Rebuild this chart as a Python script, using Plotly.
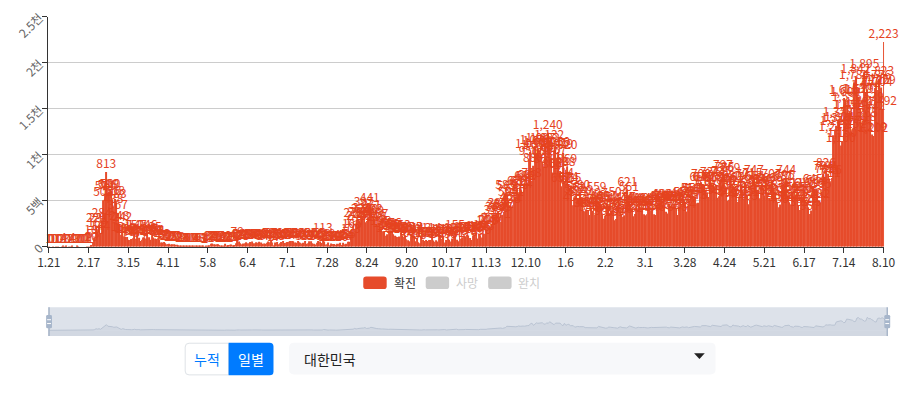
import pandas as pd
import plotly.graph_objects as go

# ---------------- data (daily confirmed cases, Korea) ----------------
start_date = "2020-01-21"
jan_2020 = [1, 0, 0, 1, 0, 1, 1, 0, 0, 2, 4]
feb_2020 = [1, 3, 0, 1, 2, 4, 0, 0, 3, 2, 0, 0, 0, 0, 0, 1, 1, 1, 20, 53,
            100, 229, 169, 231, 144, 284, 505, 571, 813]
mar_2020 = [586, 599, 600, 516, 438, 518, 483, 367, 248, 131, 242, 114, 110, 107, 76, 74,
            84, 93, 152, 87, 147, 98, 64, 76, 100, 104, 91, 146, 105, 78, 125]
apr_2020 = [101, 89, 86, 94, 81, 47, 47, 53, 39, 27, 30, 32, 25, 27, 27, 22, 22, 18, 8, 13,
            9, 11, 8, 6, 10, 10, 10, 14, 9, 4]
may_2020 = [9, 6, 13, 8, 3, 2, 4, 12, 18, 34, 35, 27, 26, 29, 27, 19, 13, 15, 13, 32,
            12, 20, 23, 25, 16, 19, 40, 79, 58, 39, 27]
jun_2020 = [35, 38, 49, 39, 39, 51, 57, 38, 38, 50, 45, 56, 48, 34, 37, 34, 43, 59, 49, 67,
            48, 17, 46, 51, 28, 39, 51, 62, 42, 43]
jul_2020 = [51, 54, 63, 63, 61, 48, 44, 63, 50, 45, 35, 44, 62, 33, 39, 61, 60, 39, 34, 26,
            45, 63, 59, 41, 113, 58, 25, 28, 48, 18, 36]
aug_2020 = [31, 30, 23, 34, 33, 43, 20, 43, 28, 34, 54, 56, 103, 166, 279, 197, 246, 297, 288, 324,
            332, 397, 266, 280, 320, 441, 371, 323, 299, 248, 235]
sep_2020 = [267, 195, 198, 168, 167, 119, 136, 156, 155, 176, 136, 121, 109, 106, 113, 153, 126, 110, 125, 82,
            70, 61, 110, 125, 114, 61, 95, 50, 38, 113]
oct_2020 = [77, 63, 75, 64, 73, 75, 114, 69, 54, 72, 58, 98, 102, 84, 110, 47, 73, 91, 76, 58,
            89, 121, 155, 77, 61, 119, 88, 103, 125, 114, 127]
nov_2020 = [124, 97, 75, 118, 125, 145, 89, 143, 126, 100, 146, 143, 191, 205, 208, 223, 230, 313, 343, 363,
            386, 330, 271, 349, 382, 583, 569, 504, 450, 438]
dec_2020 = [451, 511, 540, 629, 583, 631, 615, 594, 686, 682, 689, 950, 1030, 718, 880, 1078, 1014, 1064, 1045, 1097,
            926, 867, 1092, 985, 1240, 1132, 970, 808, 1045, 1050, 967]
jan_2021 = [1029, 824, 657, 1020, 714, 838, 869, 674, 641, 665, 451, 537, 562, 524, 513, 580, 520, 389, 386, 404,
            400, 346, 431, 392, 437, 349, 559, 497, 469, 458, 355]
feb_2021 = [305, 336, 467, 451, 370, 393, 372, 289, 303, 444, 504, 403, 362, 326, 343, 457, 621, 561, 448, 416,
            332, 356, 440, 396, 440, 406, 415, 355]
mar_2021 = [344, 355, 444, 424, 398, 416, 355, 346, 446, 470, 465, 488, 490, 459, 382, 363, 469, 445, 463, 452,
            456, 415, 346, 430, 494, 430, 505, 482, 384, 447, 506]
apr_2021 = [551, 557, 543, 543, 473, 478, 668, 700, 671, 677, 614, 587, 542, 731, 698, 673, 658, 672, 532, 549,
            731, 735, 797, 785, 644, 499, 512, 769, 680, 661]
may_2021 = [627, 606, 488, 541, 676, 574, 525, 701, 564, 463, 511, 635, 715, 747, 681, 610, 619, 528, 654, 646,
            561, 666, 585, 530, 516, 707, 629, 587, 533, 480, 430]
jun_2021 = [459, 677, 681, 695, 744, 556, 485, 454, 602, 611, 565, 565, 452, 399, 545, 540, 611, 507, 482, 429,
            357, 395, 645, 610, 634, 614, 501, 482, 595, 794]
jul_2021 = [762, 826, 794, 743, 711, 746, 1212, 1275, 1316, 1378, 1324, 1100, 1150, 1615, 1600, 1536, 1452, 1454, 1252, 1278,
            1784, 1842, 1630, 1629, 1487, 1318, 1365, 1895, 1674, 1710, 1539]
aug_2021 = [1442, 1219, 1202, 1725, 1776, 1704, 1823, 1729, 1492, 2223]

daily_cases = (jan_2020 + feb_2020 + mar_2020 + apr_2020 + may_2020 + jun_2020 + jul_2020 +
               aug_2020 + sep_2020 + oct_2020 + nov_2020 + dec_2020 + jan_2021 + feb_2021 +
               mar_2021 + apr_2021 + may_2021 + jun_2021 + jul_2021 + aug_2021)

dates = pd.date_range(start_date, periods=len(daily_cases), freq="D")
tick_step = 27
tick_dates = list(dates[::tick_step])
tick_labels = [f"{d.month}.{d.day}" for d in tick_dates]
y_tick_values = [0, 500, 1000, 1500, 2000, 2500]
y_tick_labels = ["0", "5백", "1천", "1.5천", "2천", "2.5천"]
legend_names = ["확진", "사망", "완치"]
view_buttons = ["누적", "일별"]
region_name = "대한민국"

# ---------------- style ----------------
W, H = 909, 393
RED = "#e64b2b"
LABEL_RED = "#e5431f"
FONT = "Noto Sans CJK KR, sans-serif"
Y_MAX = 2500
PLOT_TOP, PLOT_BOTTOM = 10, 250
LABEL_LIFT_PX = 1  # extra gap between bar top and its value label


def X(px):
    return px / W


def Y(py):
    return 1 - py / H


def rrect(x0, y0, x1, y1, r, tl=True, tr=True, br=True, bl=True):
    """Rounded rectangle path in paper coordinates from pixel coords."""
    def p(x, y):
        return f"{X(x):.6f},{Y(y):.6f}"
    rtl, rtr, rbr, rbl = (r if tl else 0), (r if tr else 0), (r if br else 0), (r if bl else 0)
    d = f"M {p(x0 + rtl, y0)} L {p(x1 - rtr, y0)} "
    d += f"Q {p(x1, y0)} {p(x1, y0 + rtr)} " if rtr else ""
    d += f"L {p(x1, y1 - rbr)} "
    d += f"Q {p(x1, y1)} {p(x1 - rbr, y1)} " if rbr else ""
    d += f"L {p(x0 + rbl, y1)} "
    d += f"Q {p(x0, y1)} {p(x0, y1 - rbl)} " if rbl else ""
    d += f"L {p(x0, y0 + rtl)} "
    d += f"Q {p(x0, y0)} {p(x0 + rtl, y0)} " if rtl else ""
    return d + "Z"


half_day = pd.Timedelta(hours=12)
x_range = [dates[0] - half_day, dates[-1] + half_day]

fig = go.Figure()

fig.add_trace(go.Bar(
    x=dates, y=daily_cases, name=legend_names[0],
    marker=dict(color=RED, line=dict(width=0)),
    showlegend=False, hoverinfo="x+y",
))

# value labels: invisible bars on an overlaid axis shifted a pixel up
lift = LABEL_LIFT_PX * Y_MAX / (PLOT_BOTTOM - PLOT_TOP)
fig.add_trace(go.Bar(
    x=dates, y=daily_cases, yaxis="y3",
    marker=dict(color="rgba(0,0,0,0)", line=dict(width=0)),
    texttemplate="%{y:,}", textposition="outside", textangle=0,
    constraintext="none", cliponaxis=False,
    textfont=dict(color=LABEL_RED, size=12, family=FONT),
    showlegend=False, hoverinfo="skip",
))

# mini overview chart for the range slider look
fig.add_trace(go.Scatter(
    x=dates, y=daily_cases, mode="lines", xaxis="x2", yaxis="y2",
    line=dict(color="#b9c3d2", width=1), fill="tozeroy", fillcolor="#d2d8e2",
    showlegend=False, hoverinfo="skip",
))

shapes = []
# slider background
shapes.append(dict(type="rect", xref="paper", yref="paper", x0=X(38), x1=X(898), y0=Y(343), y1=Y(313),
                   fillcolor="#dde2ea", line=dict(width=0), layer="below"))
shapes.append(dict(type="rect", xref="paper", yref="paper", x0=X(38), x1=X(898), y0=Y(343), y1=Y(337),
                   fillcolor="#d2d8e2", line=dict(width=0), layer="below"))
for xe in (39, 898):
    shapes.append(dict(type="line", xref="paper", yref="paper", x0=X(xe), x1=X(xe), y0=Y(343), y1=Y(313),
                       line=dict(color="#a9b6c9", width=1.5)))
    shapes.append(dict(type="path", xref="paper", yref="paper", path=rrect(xe - 3, 321, xe + 3, 335, 1.5),
                       fillcolor="#a7b6cb", line=dict(width=0)))
    for yl in (326, 330):
        shapes.append(dict(type="line", xref="paper", yref="paper", x0=X(xe - 2), x1=X(xe + 2),
                           y0=Y(yl), y1=Y(yl), line=dict(color="white", width=1)))

# legend
legend_x = [361, 425, 489]
legend_colors = [RED, "#cccccc", "#cccccc"]
legend_text_colors = ["#333333", "#cccccc", "#cccccc"]
annotations = []
for lx, lc, tc, name in zip(legend_x, legend_colors, legend_text_colors, legend_names):
    shapes.append(dict(type="path", xref="paper", yref="paper", path=rrect(lx, 281, lx + 24, 294, 3),
                       fillcolor=lc, line=dict(width=0)))
    annotations.append(dict(x=X(lx + 29), y=Y(287.5), xref="paper", yref="paper", text=name,
                            showarrow=False, xanchor="left", yanchor="middle",
                            font=dict(size=12, color=tc, family=FONT)))

# buttons
shapes.append(dict(type="path", xref="paper", yref="paper", path=rrect(178.5, 350.5, 223, 383.5, 4, tr=False, br=False),
                   fillcolor="white", line=dict(color="#dee2e6", width=1)))
shapes.append(dict(type="path", xref="paper", yref="paper", path=rrect(223, 350, 269, 384, 4, tl=False, bl=False),
                   fillcolor="#007bff", line=dict(width=0)))
annotations.append(dict(x=X(201), y=Y(367), xref="paper", yref="paper", text=view_buttons[0], showarrow=False,
                        xanchor="center", yanchor="middle", font=dict(size=14, color="#007bff", family=FONT)))
annotations.append(dict(x=X(246), y=Y(367), xref="paper", yref="paper", text=view_buttons[1], showarrow=False,
                        xanchor="center", yanchor="middle", font=dict(size=14, color="white", family=FONT)))

# dropdown
shapes.append(dict(type="path", xref="paper", yref="paper", path=rrect(285, 350, 722, 383, 5),
                   fillcolor="#f7f8fa", line=dict(width=0)))
caret = f"M {X(700):.6f},{Y(361):.6f} L {X(711):.6f},{Y(361):.6f} L {X(705.5):.6f},{Y(367):.6f} Z"
shapes.append(dict(type="path", xref="paper", yref="paper", path=caret, fillcolor="#222222", line=dict(width=0)))
annotations.append(dict(x=X(298), y=Y(366.5), xref="paper", yref="paper", text=region_name, showarrow=False,
                        xanchor="left", yanchor="middle", font=dict(size=14, color="#222222", family=FONT)))

fig.update_layout(
    width=W, height=H, margin=dict(l=0, r=0, t=0, b=0),
    paper_bgcolor="white", plot_bgcolor="rgba(0,0,0,0)",
    font=dict(family=FONT, size=12, color="#333333"),
    bargap=0.35, barmode="overlay", showlegend=False,
    xaxis=dict(domain=[X(38), X(895)], type="date", range=x_range, anchor="y",
               tickmode="array", tickvals=tick_dates, ticktext=tick_labels,
               tickfont=dict(size=12, color="#333333"), showgrid=False,
               showline=True, linecolor="#333333", linewidth=1,
               ticks="outside", ticklen=5, tickcolor="#333333", zeroline=False, fixedrange=True),
    yaxis=dict(domain=[Y(PLOT_BOTTOM), Y(PLOT_TOP)], range=[0, Y_MAX], anchor="x",
               tickmode="array", tickvals=y_tick_values, ticktext=y_tick_labels, tickangle=-45,
               tickfont=dict(size=12, color="#666666"), gridcolor="#cccccc", gridwidth=1,
               showline=True, linecolor="#333333", linewidth=1,
               ticks="outside", ticklen=5, tickcolor="#333333", zeroline=False, fixedrange=True),
    yaxis3=dict(overlaying="y", anchor="x", range=[-lift, Y_MAX - lift], visible=False, fixedrange=True),
    xaxis2=dict(domain=[X(38), X(898)], type="date", range=x_range, anchor="y2", visible=False),
    yaxis2=dict(domain=[Y(343), Y(313)], range=[-830, 3340], anchor="x2", visible=False),
    shapes=shapes, annotations=annotations,
)

fig.write_html("out.html")
